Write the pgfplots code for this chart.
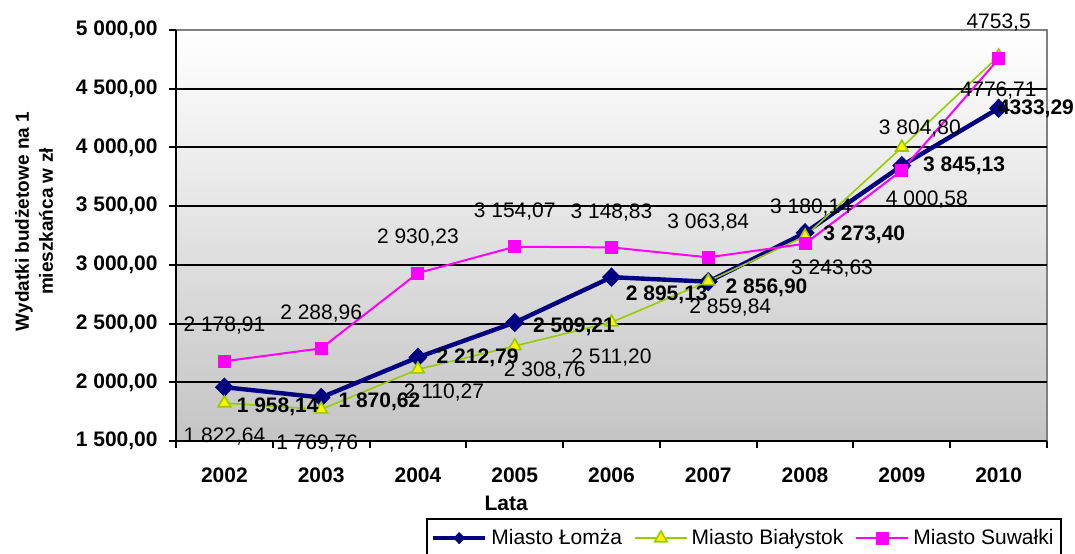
\documentclass[border=0pt]{standalone}
\usepackage{pgfplots}
\pgfplotsset{compat=1.18}
\usepackage{pgfplotstable}
\usepackage{fontspec}
\setmainfont{Liberation Sans}
\definecolor{lomza}{HTML}{000080}
\definecolor{bial}{HTML}{99CC00}
\definecolor{suw}{HTML}{FF00FF}

\pgfplotstableread[col sep=semicolon]{
x;y;label;dx;dy
0;1958.14;1 958,14;6;-10
1;1870.62;1 870,62;8.5;-2.3
2;2212.79;2 212,79;9.2;0
3;2509.21;2 509,21;9;-2
4;2895.13;2 895,13;7;-9
5;2856.90;2 856,90;8.5;-3
6;3273.40;3 273,40;9;-1
7;3845.13;3 845,13;10.5;0
8;4333.29;4333,29;-0.5;0
}\lomzatab

\pgfplotstableread[col sep=semicolon]{
x;y;label;dx;dy
0;1822.64;1 822,64;0;-16.5
1;1769.76;1 769,76;-2;-17
2;2110.27;2 110,27;13;-11.5
3;2308.76;2 308,76;15;-12
4;2511.20;2 511,20;0;-17.5
5;2859.84;2 859,84;11;-13
6;3243.63;3 243,63;13.5;-16
7;4000.58;4 000,58;12.5;-26
8;4776.71;4776,71;0;-17
}\bialtab

\pgfplotstableread[col sep=semicolon]{
x;y;label;dx;dy
0;2178.91;2 178,91;0;18
1;2288.96;2 288,96;0;17.5
2;2930.23;2 930,23;0;18
3;3154.07;3 154,07;0;17.5
4;3148.83;3 148,83;0;17.5
5;3063.84;3 063,84;0;17.5
6;3180.14;3 180,14;3;18
7;3804.80;3 804,80;9;21
8;4753.5;4753,5;0;18
}\suwtab

\begin{document}
\begin{tikzpicture}
\begin{scope}
\clip (-88pt,-56pt) rectangle (449.5pt,220.5pt);
\begin{axis}[
  at={(0pt,0pt)}, anchor=south west,
  scale only axis, width=435.5pt, height=205.5pt,
  clip=false,
  xmin=-0.5, xmax=8.5, ymin=1500, ymax=5000,
  axis x line*=bottom, axis y line*=left,
  axis line style={black, line width=1pt, -},
  axis background/.style={top color=white, bottom color=black!23, draw=gray, line width=0.8pt},
  ytick={2000,2500,...,4500},
  extra y ticks={1500,5000},
  extra y tick style={grid=none},
  ymajorgrids, major grid style={black, line width=1pt},
  xtick={-0.5,0.5,...,8.5},
  x tick label as interval,
  xticklabels={2002,2003,2004,2005,2006,2007,2008,2009,2010},
  tick align=outside, major tick length=3.5pt,
  tick style={black, line width=1pt},
  scaled y ticks=false,
  /pgf/number format/fixed,
  /pgf/number format/fixed zerofill,
  /pgf/number format/precision=2,
  /pgf/number format/use comma,
  /pgf/number format/1000 sep={\ },
  /pgf/number format/assume math mode=true,
  yticklabel style={font=\bfseries\fontsize{10.5}{12}\selectfont, inner sep=0pt, xshift=-5.5pt},
  xticklabel style={font=\bfseries\fontsize{10.5}{12}\selectfont, inner sep=0pt, yshift=-9.5pt},
  ylabel={Wydatki budżetowe na 1\\mieszkańca w zł},
  ylabel style={align=center, font=\bfseries\fontsize{9.5}{12}\selectfont, at={(axis description cs:-0.163,0.534)}, anchor=center},
  xlabel={Lata},
  xlabel style={font=\bfseries\fontsize{10.5}{12}\selectfont, at={(axis description cs:0.379,0)}, anchor=center, yshift=-31pt},
  legend style={at={(axis description cs:0,0)}, anchor=north west, xshift=125pt, yshift=-38.5pt,
    legend columns=3, draw=black, line width=1pt, font=\fontsize{10.5}{12}\selectfont,
    inner xsep=2pt, inner ysep=3pt,
    /tikz/every even column/.append style={column sep=4pt}},
  legend image code/.code={\draw[mark repeat=2,mark phase=2] plot coordinates {(0pt,0pt) (13pt,0pt) (26pt,0pt)};},
]
\addplot[lomza, line width=2.2pt, mark=diamond*, mark size=4.5pt,
  mark options={solid, fill=lomza, draw=lomza, line width=0.5pt, xscale=1.3},
  legend image post style={every mark/.append style={scale=0.6}}]
  table[x=x, y=y]{\lomzatab};
\addlegendentry{Miasto Łomża}
\addplot[bial, line width=0.8pt, mark=triangle*, mark size=3.6pt,
  mark options={solid, fill=yellow, draw=bial, line width=0.8pt}]
  table[x=x, y=y]{\bialtab};
\addlegendentry{Miasto Białystok}
\addplot[suw, line width=1pt, mark=square*, mark size=3pt,
  mark options={solid, fill=suw, draw=suw, line width=0.5pt}]
  table[x=x, y=y]{\suwtab};
\addlegendentry{Miasto Suwałki}

\addplot[draw=none, forget plot, point meta=explicit symbolic, nodes near coords,
  visualization depends on={\thisrow{dx} \as \dx},
  visualization depends on={\thisrow{dy} \as \dy},
  every node near coord/.append style={anchor=west, inner sep=0pt, xshift={\dx pt}, yshift={\dy pt},
    font=\bfseries\fontsize{10.5}{12}\selectfont, text=black}]
  table[x=x, y=y, meta=label]{\lomzatab};
\addplot[draw=none, forget plot, point meta=explicit symbolic, nodes near coords,
  visualization depends on={\thisrow{dx} \as \dx},
  visualization depends on={\thisrow{dy} \as \dy},
  every node near coord/.append style={anchor=center, inner sep=0pt, xshift={\dx pt}, yshift={\dy pt},
    font=\fontsize{10.5}{12}\selectfont, text=black}]
  table[x=x, y=y, meta=label]{\bialtab};
\addplot[draw=none, forget plot, point meta=explicit symbolic, nodes near coords,
  visualization depends on={\thisrow{dx} \as \dx},
  visualization depends on={\thisrow{dy} \as \dy},
  every node near coord/.append style={anchor=center, inner sep=0pt, xshift={\dx pt}, yshift={\dy pt},
    font=\fontsize{10.5}{12}\selectfont, text=black}]
  table[x=x, y=y, meta=label]{\suwtab};
\end{axis}
\end{scope}
\pgfresetboundingbox
\useasboundingbox (-88pt,-56pt) rectangle (449.5pt,220.5pt);
\end{tikzpicture}
\end{document}
